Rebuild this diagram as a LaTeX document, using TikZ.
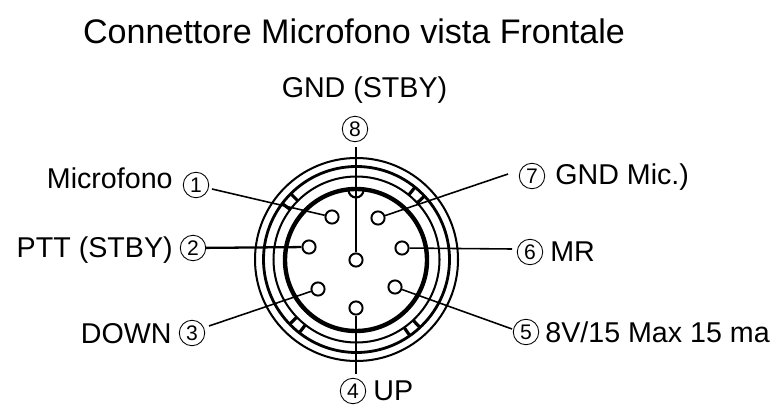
\documentclass[tikz,border=0pt]{standalone}
\usepackage{fontspec}
\setmainfont{Liberation Sans}
\tikzset{
  pin/.style={circle, draw, line width=1.1pt, fill=white, minimum size=7.5pt, inner sep=0pt},
  num/.style={circle, draw, line width=.5pt, minimum size=14.5pt, inner sep=0pt, font=\fontsize{12}{12}\selectfont},
  lab/.style={font=\fontsize{16.3}{18}\selectfont, inner sep=0pt},
  wire/.style={line width=.9pt},
  ring/.style={line width=1.15pt},
}
\begin{document}
\begin{tikzpicture}[x=0.02cm, y=-0.02cm]
  \useasboundingbox (0,0) rectangle (776,408);
  % shell
  \coordinate (c) at (356.5,259.5);
  \draw [ring] (c) circle [radius=101.5];
  \draw [line width=1.6pt] (c) circle [radius=93];
  \draw [ring] (c) circle [radius=83];
  \draw [line width=2.5pt] (356,260) circle [radius=71];
  \draw [line width=1.2pt] (348.5,190) arc [start angle=180, end angle=0, radius=7.5];
  % tabs
  \foreach \a in {51,132,221,313} {
    \draw [line width=1.8pt, shift={(c)}] (\a-4:83) -- (\a-4:93) (\a+4:83) -- (\a+4:93);
  }
  % pins
  \node [pin] (p1) at (332,217) {};
  \node [pin] (p2) at (309,247) {};
  \node [pin] (p3) at (318,289) {};
  \node [pin] (p4) at (356,308) {};
  \node [pin] (p5) at (395,287) {};
  \node [pin] (p6) at (402,248) {};
  \node [pin] (p7) at (378,218) {};
  \node [pin] (p8) at (356,260) {};
  % numbers
  \node [num] (n1) at (196,185) {1};
  \node [num] (n2) at (193,248) {2};
  \node [num] (n3) at (192,333) {3};
  \node [num] (n4) at (353,391) {4};
  \node [num] (n5) at (526,332) {5};
  \node [num] (n6) at (530,252) {6};
  \node [num] (n7) at (532,176) {7};
  \node [num] (n8) at (355,129) {8};
  % wire ends
  \coordinate (w1) at (212,189);
  \coordinate (w3) at (209,326);
  \coordinate (w4) at (356,374);
  \coordinate (w5) at (512,329);
  \coordinate (w6) at (512,249);
  \coordinate (w7) at (508,174);
  \coordinate (w8) at (356,147);
  \draw [wire] (w1) -- (p1);
  \draw [wire, line width=1.3pt] (n2) -- (p2);
  \draw [wire] (w3) -- (p3);
  \draw [wire] (w4) -- (p4);
  \draw [wire] (w5) -- (p5);
  \draw [wire] (w6) -- (p6);
  \draw [wire] (w7) -- (p7);
  \draw [wire] (w8) -- (p8);
  % labels
  \node [lab, anchor=base east] (l1) at (173,189) {Microfono};
  \node [lab, anchor=base east] (l2) at (173,257) {PTT (STBY)};
  \node [lab, anchor=base east] (l3) at (172,343) {DOWN};
  \node [lab, anchor=base west] (l4) at (373,400) {UP};
  \node [lab, anchor=base west] (l5) at (545,342) {8V/15 Max 15 ma};
  \node [lab, anchor=base west] (l6) at (550,261) {MR};
  \node [lab, anchor=base west] (l7) at (555,185) {GND Mic.)};
  \node [lab, anchor=base] (l8) at (364.5,98) {GND (STBY)};
  \node [font=\fontsize{19.4}{22}\selectfont, inner sep=0pt, anchor=base] (title) at (354,44) {Connettore Microfono vista Frontale};
\end{tikzpicture}
\end{document}
